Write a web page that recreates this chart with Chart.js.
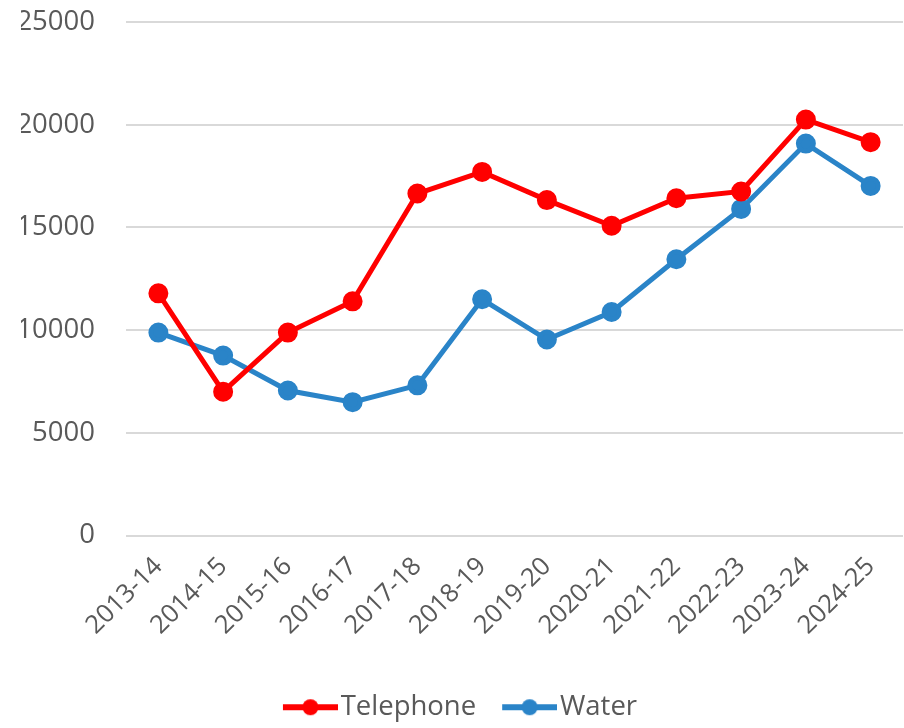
<!DOCTYPE html>
<html>
<head>
<meta charset="utf-8">
<script src="https://cdn.jsdelivr.net/npm/chart.js@4"></script>
<style>
  html, body { margin: 0; padding: 0; background: #fff; }
  #wrap { width: 904px; height: 728px; }
</style>
</head>
<body>
<div id="wrap"><canvas id="chart" width="904" height="728"></canvas></div>
<script>
const years = ['2013-14', '2014-15', '2015-16', '2016-17', '2017-18', '2018-19',
               '2019-20', '2020-21', '2021-22', '2022-23', '2023-24', '2024-25'];
const telephone = [11790, 7000, 9880, 11400, 16650, 17700, 16330, 15080, 16420, 16750, 20250, 19150];
const water = [9880, 8760, 7060, 6490, 7310, 11500, 9540, 10880, 13450, 15900, 19080, 17020];
const yTicks = [0, 5000, 10000, 15000, 20000, 25000];

const RED = '#ff0000';
const BLUE = '#2a84c8';
const TEXT = '#595959';

// legend marker: short line with a dot, shifted right so it sits close to the text
function legendMarker(color) {
    const c = document.createElement('canvas');
    c.width = 62; c.height = 18;
    const g = c.getContext('2d');
    g.strokeStyle = color;
    g.lineWidth = 6;
    g.beginPath();
    g.moveTo(7, 9); g.lineTo(62, 9);
    g.stroke();
    g.fillStyle = color;
    g.beginPath();
    g.arc(34.5, 9, 8, 0, Math.PI * 2);
    g.fill();
    return c;
}

const markers = [legendMarker(RED), legendMarker(BLUE)];

new Chart(document.getElementById('chart'), {
    type: 'line',
    data: {
        labels: years,
        datasets: [{
            label: 'Telephone',
            data: telephone,
            borderColor: RED,
            backgroundColor: RED,
            borderWidth: 5,
            pointRadius: 7.5,
            pointHoverRadius: 7.5,
            tension: 0
        }, {
            label: 'Water',
            data: water,
            borderColor: BLUE,
            backgroundColor: BLUE,
            borderWidth: 5,
            pointRadius: 7.5,
            pointHoverRadius: 7.5,
            tension: 0
        }]
    },
    options: {
        responsive: false,
        animation: false,
        layout: { autoPadding: false, padding: { top: 22, right: 1, left: 21, bottom: -3 } },
        plugins: {
            tooltip: { enabled: false },
            legend: {
                position: 'bottom',
                labels: {
                    usePointStyle: true,
                    pointStyleWidth: 40,
                    color: TEXT,
                    font: { family: 'Open Sans', size: 27.5 },
                    padding: 30,
                    generateLabels: chart => chart.data.datasets.map((ds, i) => ({
                        text: ds.label,
                        fontColor: TEXT,
                        pointStyle: markers[i],
                        datasetIndex: i,
                        hidden: false,
                        lineWidth: 0,
                        strokeStyle: 'transparent',
                        fillStyle: 'transparent'
                    }))
                }
            }
        },
        scales: {
            x: {
                offset: true,
                grid: { display: false },
                border: { display: false },
                ticks: {
                    color: TEXT,
                    font: { family: 'Open Sans', size: 25.5 },
                    minRotation: 45,
                    maxRotation: 45,
                    padding: 8
                },
                afterFit: s => { s.height = 128; s.paddingLeft = 0; s.paddingRight = 0; }
            },
            y: {
                min: 0,
                max: 25000,
                afterBuildTicks: s => { s.ticks = yTicks.map(v => ({ value: v })); },
                grid: { color: '#d9d9d9', lineWidth: 2, drawTicks: false },
                border: { display: false },
                ticks: {
                    color: TEXT,
                    font: { family: 'Open Sans', size: 27.5 },
                    padding: 31,
                    callback: v => String(v)
                },
                afterFit: s => { s.width = 105; s.paddingTop = 0; s.paddingBottom = 0; }
            }
        }
    }
});
</script>
</body>
</html>
